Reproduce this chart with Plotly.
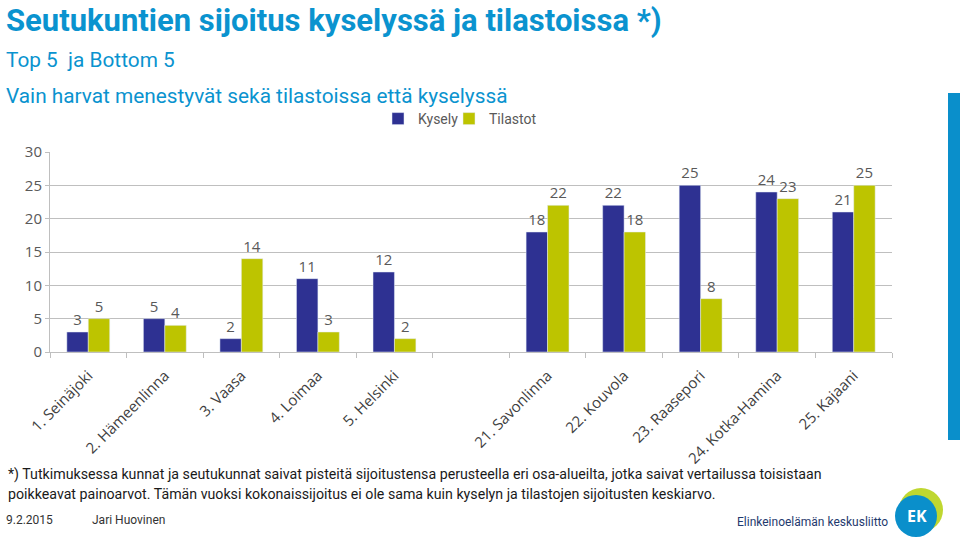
import plotly.graph_objects as go

categories = ["1. Seinäjoki", "2. Hämeenlinna", "3. Vaasa", "4. Loimaa", "5. Helsinki", " ",
              "21. Savonlinna", "22. Kouvola", "23. Raasepori", "24. Kotka-Hamina", "25. Kajaani"]
kysely = [3, 5, 2, 11, 12, None, 18, 22, 25, 24, 21]
tilastot = [5, 4, 14, 3, 2, None, 22, 18, 8, 23, 25]

title_text = "Seutukuntien sijoitus kyselyssä ja tilastoissa *)"
subtitle1 = "Top 5  ja Bottom 5"
subtitle2 = "Vain harvat menestyvät sekä tilastoissa että kyselyssä"
footnote1 = "*) Tutkimuksessa kunnat ja seutukunnat saivat pisteitä sijoitustensa perusteella eri osa-alueilta, jotka saivat vertailussa toisistaan"
footnote2 = "poikkeavat painoarvot. Tämän vuoksi kokonaissijoitus ei ole sama kuin kyselyn ja tilastojen sijoitusten keskiarvo."

BLUE = "#2E3192"
GREEN = "#BDC400"
LABEL = "#595959"
TITLE_BLUE = "#0A93CF"
FONT = "Roboto, Open Sans, sans-serif"

def lbl(v):
    return [("" if x is None else str(x)) for x in v]

fig = go.Figure()
fig.add_trace(go.Bar(x=categories, y=kysely, name="Kysely", marker_color=BLUE, legend="legend",
                     text=lbl(kysely), textposition="outside", cliponaxis=False,
                     textfont=dict(size=15, color=LABEL, family="Open Sans, sans-serif")))
fig.add_trace(go.Bar(x=categories, y=tilastot, name="Tilastot", marker_color=GREEN, legend="legend2",
                     text=lbl(tilastot), textposition="outside", cliponaxis=False,
                     textfont=dict(size=15, color=LABEL, family="Open Sans, sans-serif")))

W, H = 960, 539
pl, pr, pt, pb = 50, 892, 152, 352

def px(x):
    return (x - pl) / (pr - pl)
def py(y):
    return (pb - y) / (pb - pt)

leg_common = dict(orientation="h", xref="container", yref="container", xanchor="left",
                  yanchor="middle", font=dict(size=14, color=LABEL, family=FONT),
                  bgcolor="rgba(0,0,0,0)")
fig.update_layout(
    width=W, height=H,
    margin=dict(l=pl, r=W - pr, t=pt, b=H - pb, autoexpand=False),
    paper_bgcolor="white", plot_bgcolor="white",
    barmode="group", bargap=0.44, bargroupgap=0,
    font=dict(family="Open Sans, sans-serif", color=LABEL),
    showlegend=True,
    legend=dict(leg_common, x=378 / W, y=1 - 119 / H),
    legend2=dict(leg_common, x=449 / W, y=1 - 119 / H),
)

fig.update_yaxes(range=[0, 30], dtick=5, showgrid=True, gridcolor="#BFBFBF", gridwidth=1,
                 showline=True, linecolor="#BFBFBF", linewidth=1, zeroline=False,
                 ticks="outside", ticklen=4, tickcolor="#BFBFBF", automargin=False,
                 tickfont=dict(size=15, color=LABEL))
fig.update_xaxes(showline=True, linecolor="#BFBFBF", linewidth=1, tickangle=-45,
                 ticks="outside", tickson="boundaries", ticklen=5, tickcolor="#BFBFBF",
                 automargin=False, ticklabelstandoff=8,
                 tickfont=dict(size=15, color="#404040"))

ann = []
for txt, y, size in [(f"<b>{title_text}</b>", 20, 31), (subtitle1, 60, 20.8), (subtitle2, 96, 20.8)]:
    ann.append(dict(text=txt, x=px(4), y=py(y), xref="paper", yref="paper",
                    xanchor="left", yanchor="middle", showarrow=False,
                    font=dict(size=size, family=FONT, color=TITLE_BLUE)))
for txt, y in [(footnote1, 474), (footnote2, 494)]:
    ann.append(dict(text=txt, x=px(6), y=py(y), xref="paper", yref="paper", xanchor="left",
                    yanchor="middle", showarrow=False,
                    font=dict(size=14.2, family=FONT, color="#1A1A1A")))
ann.append(dict(text="9.2.2015", x=px(4), y=py(520), xref="paper", yref="paper", xanchor="left",
                yanchor="middle", showarrow=False, font=dict(size=12, family=FONT, color="#333333")))
ann.append(dict(text="Jari Huovinen", x=px(90), y=py(520), xref="paper", yref="paper", xanchor="left",
                yanchor="middle", showarrow=False, font=dict(size=12, family=FONT, color="#333333")))
ann.append(dict(text="Elinkeinoelämän keskusliitto", x=px(890), y=py(522), xref="paper", yref="paper",
                xanchor="right", yanchor="middle", showarrow=False,
                font=dict(size=12, family=FONT, color="#1F3A6E")))
ann.append(dict(text="<b>EK</b>", x=px(917), y=py(516), xref="paper", yref="paper",
                xanchor="center", yanchor="middle", showarrow=False,
                font=dict(size=16, family="Open Sans, sans-serif", color="white")))
fig.layout.annotations = ann

shapes = [
    dict(type="rect", x0=px(948), x1=px(962), y0=py(440), y1=py(93), fillcolor="#0A8FCB", line_width=0),
    dict(type="circle", x0=px(899), x1=px(943), y0=py(532), y1=py(488), fillcolor="#BFD730", line_width=0),
    dict(type="circle", x0=px(895), x1=px(937), y0=py(537), y1=py(495), fillcolor="#0A8FCB", line_width=0),
]
fig.layout.shapes = [dict(s, xref="paper", yref="paper") for s in shapes]

fig.write_html("out.html", config={"displayModeBar": False},
               post_script="document.body.style.margin='0px';")
